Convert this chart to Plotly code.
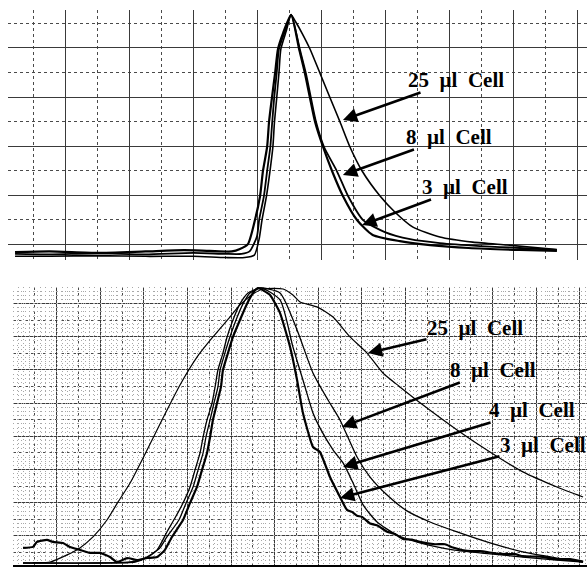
import plotly.graph_objects as go

# ---------------- top panel (grid units) ----------------
TOP_X_3 = [0.42, 1.5, 3.0, 4.5, 5.7, 6.5, 7.2, 7.45, 7.70, 7.92, 8.08, 8.17, 8.30, 8.36, 8.45, 8.55, 8.64, 8.80, 9.05,
           9.30, 9.48, 9.64, 9.80, 10.05, 10.33, 10.67, 11.11, 11.6, 12.45, 13.4, 14.6, 16.2, 17.36]
TOP_Y_3 = [-0.33, -0.30, -0.36, -0.30, -0.25, -0.28, -0.30, -0.20, 0.0, 0.98, 1.96, 2.98, 3.96, 4.98, 5.96, 6.98, 7.96, 8.61, 9.35,
           7.96, 6.98, 5.96, 4.98, 3.96, 2.98, 1.96, 0.98, 0.37, 0.12, -0.04, -0.16, -0.24, -0.28]

TOP_X_8 = [0.42, 1.5, 3.0, 4.5, 6.0, 7.0, 7.5, 7.75, 7.98, 8.05, 8.20, 8.30, 8.40, 8.46, 8.52, 8.60, 8.67, 8.85, 9.05,
           9.32, 9.51, 9.67, 9.83, 10.08, 10.48, 10.83, 11.30, 11.98, 12.77, 13.70, 14.95, 16.2, 17.36]
TOP_Y_8 = [-0.40, -0.42, -0.38, -0.42, -0.36, -0.40, -0.40, -0.30, 0.30, 0.98, 1.96, 2.98, 3.96, 4.98, 5.96, 6.98, 7.96, 8.65, 9.35,
           7.96, 6.98, 5.96, 4.98, 3.96, 2.98, 1.96, 0.98, 0.49, 0.20, 0.04, -0.08, -0.16, -0.24]

TOP_X_25 = [0.42, 1.5, 3.0, 4.5, 6.0, 7.0, 7.6, 7.9, 8.05, 8.14, 8.28, 8.39, 8.48, 8.53, 8.60, 8.67, 8.73, 8.90, 9.05,
            9.20, 9.39, 9.64, 9.95, 10.27, 10.58, 10.89, 11.27, 11.83, 12.30, 12.86, 13.70, 14.73, 15.80, 17.36]
TOP_Y_25 = [-0.50, -0.50, -0.47, -0.50, -0.50, -0.55, -0.55, -0.45, 0.20, 0.98, 1.96, 2.98, 3.96, 4.98, 5.96, 6.98, 7.96, 8.70, 9.35,
            9.05, 8.61, 7.96, 6.98, 5.96, 4.98, 3.96, 2.98, 1.96, 1.30, 0.69, 0.29, 0.08, -0.04, -0.22]

# ---------------- bottom panel (grid units) ----------------
BOT_X_25 = [0.90, 1.70, 2.48, 3.07, 3.67, 4.31, 4.82, 5.37, 6.15, 6.88, 7.66, 8.44, 9.17, 9.95, 10.41, 11.01, 11.47, 12.39,
            12.84, 13.17, 13.94, 14.68, 15.46, 16.24, 16.97, 17.75, 18.81, 20.37, 21.88, 23.39, 24.95, 26.15]
BOT_Y_25 = [-1.60, -1.57, -1.14, -0.72, -0.06, 0.96, 2.05, 3.19, 5.18, 7.11, 9.10, 10.78, 11.99, 13.19, 13.92, 14.58, 14.88, 14.88,
            14.52, 14.10, 13.80, 13.19, 11.99, 11.02, 9.82, 8.98, 7.89, 6.39, 5.06, 3.86, 2.95, 2.35]

BOT_X_8 = [0.46, 3.99, 5.37, 5.96, 6.61, 7.06, 7.43, 7.80, 8.12, 8.35, 8.58, 8.72, 8.90, 9.13, 9.27, 9.40, 9.63, 9.82, 10.09,
           10.41, 10.78, 11.33, 12.25, 13.03, 13.76, 14.45, 15.00, 15.78, 16.38, 17.16, 18.07, 19.13, 20.37, 21.88, 23.39, 24.95, 26.15]
BOT_Y_8 = [-1.63, -1.63, -1.57, -1.39, -0.84, 0.24, 1.08, 1.99, 2.95, 3.98, 5.00, 5.96, 6.99, 8.01, 8.98, 10.00, 11.02, 11.99, 13.01,
           13.98, 14.64, 14.94, 14.64, 12.41, 9.82, 8.19, 6.99, 4.76, 3.55, 2.47, 1.51, 0.84, 0.24, -0.42, -0.96, -1.33, -1.57]

BOT_X_4 = [0.46, 3.99, 5.60, 6.19, 6.74, 7.06, 7.61, 7.94, 8.26, 8.49, 8.72, 8.85, 9.04, 9.22, 9.40, 9.50, 9.72, 9.95, 10.23,
           10.55, 10.87, 11.38, 12.25, 12.84, 13.30, 13.76, 14.08, 14.68, 15.14, 15.60, 16.06, 16.70, 17.61, 18.67, 20.18, 21.88,
           23.39, 24.95, 26.15]
BOT_Y_4 = [-1.63, -1.63, -1.57, -1.27, -0.72, -0.06, 0.96, 1.99, 2.95, 3.98, 5.00, 5.96, 6.99, 8.01, 8.98, 10.00, 11.02, 11.99, 13.01,
           13.98, 14.64, 14.94, 14.22, 11.39, 9.40, 7.41, 6.51, 5.18, 4.40, 3.19, 1.87, 0.84, 0.06, -0.42, -0.84, -1.08,
           -1.27, -1.45, -1.57]

BOT_X_3 = [0.46, 0.92, 1.10, 1.56, 1.83, 2.29, 2.61, 3.07, 3.53, 3.99, 4.45, 4.77, 5.23, 5.69, 6.15, 6.61, 6.97, 7.29, 7.80,
           8.12, 8.44, 8.67, 8.90, 9.04, 9.17, 9.36, 9.54, 9.63, 9.86, 10.09, 10.41, 10.73, 11.01, 11.24, 11.79, 12.25, 12.71,
           13.03, 13.30, 13.76, 14.08, 14.54, 15.00, 15.32, 15.55, 15.78, 16.01, 16.38, 16.74, 17.16, 17.52, 17.89, 18.30, 18.67,
           19.36, 19.82, 20.18, 20.83, 21.42, 22.34, 23.03, 23.39, 24.17, 24.95, 25.55, 26.15]
BOT_Y_3 = [-0.72, -0.66, -0.36, -0.24, -0.36, -0.42, -0.66, -0.84, -1.02, -1.02, -1.27, -1.57, -1.33, -1.45, -1.33, -1.27, -0.84,
           -0.06, 0.96, 1.99, 2.95, 3.98, 5.00, 5.96, 6.99, 8.01, 8.98, 10.00, 11.02, 11.99, 13.01, 13.98, 14.64, 14.94, 14.52,
           13.43, 11.39, 9.40, 7.41, 5.36, 5.06, 3.55, 2.35, 1.57, 1.45, 1.22, 1.15, 0.75, 0.62, 0.25, 0.12, -0.18, -0.22, -0.36,
           -0.50, -0.50, -0.70, -0.90, -0.92, -1.08, -1.10, -1.22, -1.25, -1.40, -1.40, -1.55]

# labels: text, arrow head position, text position
TOP_LABELS = ["25\u00a0\u00a0\u00b5l\u00a0\u00a0Cell", "8\u00a0\u00a0\u00b5l\u00a0\u00a0Cell", "3\u00a0\u00a0\u00b5l\u00a0\u00a0Cell"]
TOP_HEAD_X = [10.67, 10.67, 11.27]
TOP_HEAD_Y = [5.06, 2.82, 0.78]
TOP_TEXT_X = [14.2, 13.98, 14.48]
TOP_TEXT_Y = [6.69, 4.37, 2.33]

BOT_LABELS = ["25\u00a0\u00a0\u00b5l\u00a0\u00a0Cell", "8\u00a0\u00a0\u00b5l\u00a0\u00a0Cell",
              "4\u00a0\u00a0\u00b5l\u00a0\u00a0Cell", "3\u00a0\u00a0\u00b5l\u00a0\u00a0Cell"]
BOT_HEAD_X = [16.28, 15.09, 15.14, 15.0]
BOT_HEAD_Y = [11.02, 6.57, 4.16, 2.29]
BOT_TEXT_X = [21.19, 22.02, 23.81, 24.31]
BOT_TEXT_Y = [12.53, 10.0, 7.59, 5.48]

W, H = 587, 567
fig = go.Figure()

def add(xs, ys, xa, ya, w, smooth=0.6):
    fig.add_trace(go.Scatter(x=xs, y=ys, xaxis=xa, yaxis=ya, mode="lines",
                             line=dict(color="black", width=w, shape="spline", smoothing=smooth),
                             showlegend=False, hoverinfo="skip"))

add(TOP_X_25, TOP_Y_25, "x", "y", 1.6)
add(TOP_X_8, TOP_Y_8, "x", "y", 1.8)
add(TOP_X_3, TOP_Y_3, "x", "y", 2.2)

add(BOT_X_25, BOT_Y_25, "x2", "y2", 1.2)
add(BOT_X_8, BOT_Y_8, "x2", "y2", 1.3)
add(BOT_X_4, BOT_Y_4, "x2", "y2", 1.3)
add(BOT_X_3, BOT_Y_3, "x2", "y2", 2.2, smooth=0.4)

def grid_axis(dom, rng, anchor, major=2, minor=1):
    return dict(domain=dom, range=rng, anchor=anchor, tick0=0, dtick=major, showgrid=True,
                gridcolor="#3a3a3a", gridwidth=1, zeroline=False, showline=False,
                showticklabels=False, ticks="",
                minor=dict(tick0=0, dtick=minor, showgrid=True, gridcolor="#4a4a4a",
                           griddash="3px,3px", gridwidth=1))

annotations = []
font = dict(family="Liberation Serif", size=21, color="black")
for t, hx, hy, tx, ty in zip(TOP_LABELS, TOP_HEAD_X, TOP_HEAD_Y, TOP_TEXT_X, TOP_TEXT_Y):
    annotations.append(dict(text="<b>" + t + "</b>", x=hx, y=hy, ax=tx, ay=ty, xref="x", yref="y",
                            axref="x", ayref="y", showarrow=True, arrowhead=2, arrowsize=1.1,
                            arrowwidth=2.6, arrowcolor="black", font=font, borderpad=0))
for t, hx, hy, tx, ty in zip(BOT_LABELS, BOT_HEAD_X, BOT_HEAD_Y, BOT_TEXT_X, BOT_TEXT_Y):
    annotations.append(dict(text="<b>" + t + "</b>", x=hx, y=hy, ax=tx, ay=ty, xref="x2", yref="y2",
                            axref="x2", ayref="y2", showarrow=True, arrowhead=2, arrowsize=1.1,
                            arrowwidth=2.6, arrowcolor="black", font=font, borderpad=0))

bx = grid_axis([13 / W, 1], [0, 26.33], "y2")
bx.update(showline=True, linecolor="black", linewidth=2.5, mirror=False)

fig.update_layout(
    width=W, height=H, margin=dict(l=0, r=0, t=0, b=0),
    paper_bgcolor="white", plot_bgcolor="white",
    xaxis=grid_axis([8 / W, 1], [0.2, 18.3], "y"),
    yaxis=grid_axis([1 - 260 / H, 1 - 10 / H], [-0.65, 9.55], "x"),
    xaxis2=bx,
    yaxis2=grid_axis([1 - 565 / H, 1 - 287 / H], [-1.75, 15.0], "x2"),
    xaxis3=dict(overlaying="x2", range=[0, 26.33], tick0=0, dtick=0.25, showgrid=True, gridcolor="#a8a8a8",
                griddash="1px,3px", gridwidth=1, showticklabels=False, ticks="", zeroline=False, anchor="y3"),
    yaxis3=dict(overlaying="y2", range=[-1.75, 15.0], tick0=0, dtick=0.25, showgrid=True, gridcolor="#a8a8a8",
                griddash="1px,3px", gridwidth=1, showticklabels=False, ticks="", zeroline=False, anchor="x3"),
    annotations=annotations,
)
fig.add_trace(go.Scatter(x=[None], y=[None], xaxis="x3", yaxis="y3", showlegend=False, hoverinfo="skip"))

fig.write_html("out.html")
